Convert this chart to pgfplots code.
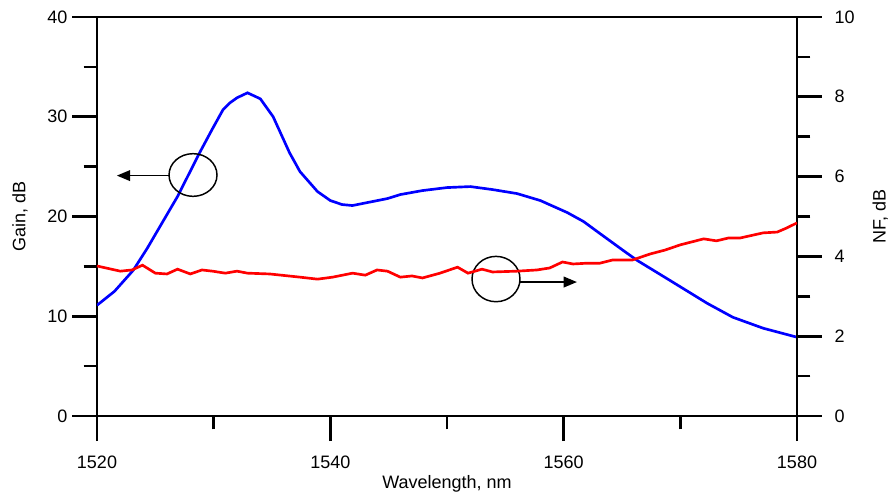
\documentclass[border=0pt]{standalone}
\usepackage{fontspec}
\setmainfont{Liberation Sans}
\usepackage{pgfplots}
\pgfplotsset{compat=1.18}
\usetikzlibrary{arrows.meta}

\pgfplotstableread{
lambda gain
1520.0 11.1
1521.5 12.5
1523.1 14.6
1524.3 16.8
1525.6 19.4
1526.9 22.0
1528.8 26.4
1529.9 28.8
1530.8 30.7
1531.4 31.4
1532.0 31.9
1532.9 32.4
1534.0 31.8
1535.1 30.0
1536.5 26.4
1537.4 24.5
1538.9 22.5
1540.0 21.6
1541.0 21.2
1541.9 21.1
1544.9 21.8
1546.0 22.2
1547.9 22.6
1550.0 22.9
1552.0 23.0
1553.9 22.7
1556.0 22.3
1558.0 21.6
1560.3 20.4
1561.7 19.5
1563.1 18.3
1565.1 16.6
1566.3 15.6
1569.1 13.6
1572.3 11.3
1574.5 9.9
1577.1 8.8
1580.0 7.9
}\gaintab

\pgfplotstableread{
lambda nf
1520.0 3.76
1522.0 3.63
1523.0 3.66
1523.9 3.78
1525.0 3.58
1526.0 3.56
1526.9 3.68
1528.0 3.56
1529.0 3.66
1529.9 3.63
1531.0 3.58
1532.0 3.63
1532.9 3.58
1534.8 3.56
1537.4 3.48
1538.9 3.43
1540.2 3.48
1541.9 3.58
1543.0 3.53
1544.0 3.66
1544.9 3.63
1546.0 3.48
1547.0 3.51
1547.9 3.46
1549.4 3.58
1550.9 3.73
1551.8 3.58
1553.0 3.68
1553.9 3.61
1556.0 3.63
1557.7 3.66
1558.8 3.71
1559.9 3.86
1560.8 3.81
1562.0 3.83
1563.1 3.83
1564.2 3.91
1565.9 3.91
1567.4 4.06
1568.7 4.16
1570.0 4.29
1572.0 4.44
1573.1 4.39
1574.1 4.46
1575.1 4.46
1577.1 4.59
1578.3 4.61
1579.1 4.71
1580.0 4.84
}\nftab

\begin{document}
\begin{tikzpicture}[font=\fontsize{13.5}{16}\selectfont]
\pgfplotsset{
  common/.style={
    scale only axis, width=525pt, height=299.25pt,
    xmin=1520, xmax=1580,
    tick align=outside,
    major tick length=18.75pt, minor tick length=10pt,
    every tick/.style={black, line width=2pt},
    axis line style={line width=2pt},
    /pgf/number format/assume math mode=true,
    /pgf/number format/1000 sep={},
    tick label style={font=\fontsize{13.5}{16}\selectfont},
    label style={font=\fontsize{13.5}{16}\selectfont},
  }
}
\begin{axis}[common, name=main,
    ymin=0, ymax=40,
    xtick={1520,1540,1560,1580}, minor xtick={1530,1550,1570},
    ytick={0,10,20,30,40}, minor ytick={5,15,25,35},
    xtick pos=bottom, ytick pos=left,
    xticklabel style={yshift=-8pt},
    xlabel={Wavelength, nm}, ylabel={Gain, dB},
    xlabel style={at={(axis description cs:0.5,-0.17)}, anchor=center},
    ylabel style={at={(axis description cs:-0.11,0.5)}, anchor=center},
  ]
  \addplot[blue, line width=2pt, no markers] table[x=lambda, y=gain] {\gaintab};
  \draw[black, line width=1.1pt] (axis cs:1528.23,24.16) ellipse [x radius=18pt, y radius=16pt];
  \draw[black, line width=1.3pt, -{Triangle[length=10pt,width=8pt]}] (axis cs:1526.17,24.1) -- (axis cs:1521.7,24.1);
  \draw[black, line width=1.1pt] (axis cs:1554.2,13.73) ellipse [x radius=18pt, y radius=17pt];
  \draw[black, line width=1.3pt, -{Triangle[length=10pt,width=8pt]}] (axis cs:1556.26,13.43) -- (axis cs:1561.14,13.43);
\end{axis}
\begin{axis}[common,
    axis x line=none, axis y line*=right,
    ymin=0, ymax=10,
    ytick={0,2,...,10}, minor ytick={1,3,5,7,9},
    yticklabel style={xshift=6pt},
    ylabel={NF, dB},
    ylabel style={at={(axis description cs:1.119,0.5)}, anchor=center},
  ]
  \addplot[red, line width=2pt, no markers] table[x=lambda, y=nf] {\nftab};
\end{axis}
\pgfresetboundingbox
\useasboundingbox ([shift={(-72.75pt,-58.5pt)}]main.south west) rectangle ([shift={(69pt,12.75pt)}]main.north east);
\end{tikzpicture}
\end{document}
